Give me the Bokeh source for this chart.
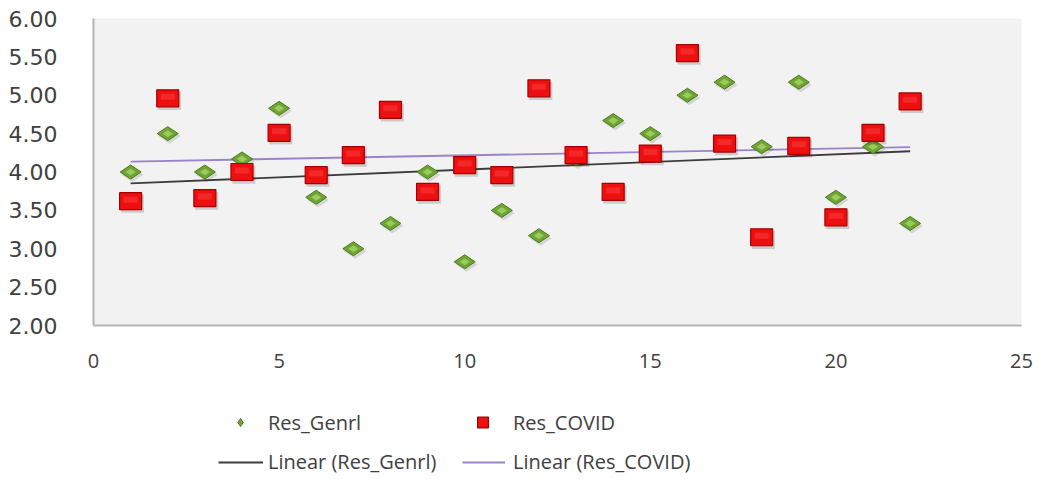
import numpy as np
from bokeh.plotting import figure
from bokeh.layouts import column
from bokeh.models import (ColumnDataSource, Range1d, FixedTicker, NumeralTickFormatter,
                          Legend, LegendItem)
from bokeh.transform import dodge
from bokeh.embed import file_html
from bokeh.resources import INLINE

# respondent index and the two mean scores
respondent = list(range(1, 23))
res_genrl = [4.00, 4.50, 4.00, 4.17, 4.83, 3.67, 3.00, 3.33, 4.00, 2.83, 3.50,
             3.17, 4.17, 4.67, 4.50, 5.00, 5.17, 4.33, 5.17, 3.67, 4.33, 3.33]
res_covid = [3.62, 4.96, 3.66, 4.00, 4.51, 3.96, 4.22, 4.81, 3.74, 4.09, 3.96,
             5.09, 4.22, 3.74, 4.24, 5.55, 4.37, 3.15, 4.34, 3.41, 4.51, 4.92]

x_ticks = [0, 5, 10, 15, 20, 25]
y_ticks = [2.0, 2.5, 3.0, 3.5, 4.0, 4.5, 5.0, 5.5, 6.0]

TEXT = "#404040"
AXIS = "#b4b4b4"
GREEN, GREEN_EDGE = "#6ea533", "#4b7a1d"
RED, RED_EDGE = "#ee1010", "#a40000"
TREND_G, TREND_C = "#3c3c3c", "#9a82cc"

p = figure(width=1060, height=379,
           x_range=Range1d(0, 25), y_range=Range1d(2, 6),
           output_backend="svg", toolbar_location=None,
           min_border_left=93, min_border_right=39,
           min_border_top=18, min_border_bottom=54)

p.background_fill_color = "#f2f2f2"
p.border_fill_color = "white"
p.outline_line_color = None
p.grid.visible = False

# axes
p.yaxis.ticker = FixedTicker(ticks=y_ticks)
p.yaxis.formatter = NumeralTickFormatter(format="0.00")
p.xaxis.ticker = FixedTicker(ticks=x_ticks)
for ax in (p.xaxis, p.yaxis):
    ax.axis_line_color = AXIS
    ax.axis_line_width = 2
    ax.major_tick_line_color = None
    ax.minor_tick_line_color = None
    ax.major_label_text_color = TEXT
p.yaxis.major_label_text_font = "DejaVu Sans"
p.yaxis.major_label_text_font_size = "22px"
p.yaxis.major_label_standoff = 30
p.xaxis.major_label_text_font = "Open Sans"
p.xaxis.major_label_text_font_size = "20px"
p.xaxis.major_label_standoff = 22

src = ColumnDataSource(dict(x=respondent, g=res_genrl, c=res_covid))

# linear trend lines (least squares)
ends = [respondent[0], respondent[-1]]
fit_g = np.polyfit(respondent, res_genrl, 1)
fit_c = np.polyfit(respondent, res_covid, 1)
trend_g_y = list(np.polyval(fit_g, ends))
trend_c_y = list(np.polyval(fit_c, ends))
p.line(ends, trend_g_y, line_color=TREND_G, line_width=1.8)
p.line(ends, trend_c_y, line_color=TREND_C, line_width=1.8)

# Res_Genrl: green diamonds with a light centre
p.scatter(dodge("x", 0.05, range=p.x_range), dodge("g", -0.035, range=p.y_range),
          source=src, marker="diamond", angle=np.pi / 2, size=22,
          fill_color="black", fill_alpha=0.12, line_color=None)
p.scatter("x", "g", source=src, marker="diamond", angle=np.pi / 2, size=21,
          fill_color=GREEN, line_color=GREEN_EDGE, line_width=1)
p.scatter("x", "g", source=src, marker="diamond", angle=np.pi / 2, size=10,
          fill_color="#a6d468", fill_alpha=0.8, line_color=None)

# Res_COVID: red squares with a soft shadow
p.rect(dodge("x", 0.05, range=p.x_range), dodge("c", -0.035, range=p.y_range),
       source=src, width=23, height=18, width_units="screen", height_units="screen",
       fill_color="black", fill_alpha=0.16, line_color=None)
p.rect("x", "c", source=src, width=22, height=17,
       width_units="screen", height_units="screen",
       fill_color=RED, line_color=RED_EDGE, line_width=1.2)
p.rect("x", dodge("c", 0.02, range=p.y_range), source=src, width=14, height=6,
       width_units="screen", height_units="screen",
       fill_color="#ff5656", fill_alpha=0.35, line_color=None)

# legend strip under the chart; its view range sits away from the data,
# so the key renderers only show up as legend swatches
lg = figure(width=1060, height=100, x_axis_type=None, y_axis_type=None,
            x_range=Range1d(0, 25), y_range=Range1d(-20, -10),
            output_backend="svg", toolbar_location=None,
            min_border=0, outline_line_color=None)
lg.grid.visible = False
lg.background_fill_color = "white"
lg.border_fill_color = "white"

key_g = lg.scatter("x", "g", source=src, marker="diamond",
                   fill_color=GREEN, line_color=GREEN_EDGE, line_width=1)
key_c = lg.scatter("x", "c", source=src, marker="square",
                   fill_color=RED, line_color=RED_EDGE, line_width=1.2)
key_tg = lg.line(ends, trend_g_y, line_color=TREND_G, line_width=1.8)
key_tc = lg.line(ends, trend_c_y, line_color=TREND_C, line_width=1.8)


def add_key(label, renderer, loc, gw, gh, standoff):
    leg = Legend(items=[LegendItem(label=label, renderers=[renderer])],
                 location=loc, orientation="horizontal",
                 glyph_width=gw, glyph_height=gh, label_height=gh,
                 label_standoff=standoff, padding=0, margin=0, spacing=0,
                 background_fill_alpha=0, border_line_color=None,
                 label_text_font="Open Sans", label_text_font_size="20px",
                 label_text_color=TEXT)
    lg.add_layout(leg)


# frames of the two plots share their left edge
add_key("Res_Genrl", key_g, (137, 43), 20, 28, 18)
add_key("Res_COVID", key_c, (376, 40), 27, 34, 17)
add_key("Linear (Res_Genrl)", key_tg, (125, 4), 45, 20, 5)
add_key("Linear (Res_COVID)", key_tc, (369, 4), 43, 20, 8)

open("out.html", "w").write(file_html(column(p, lg), INLINE))
